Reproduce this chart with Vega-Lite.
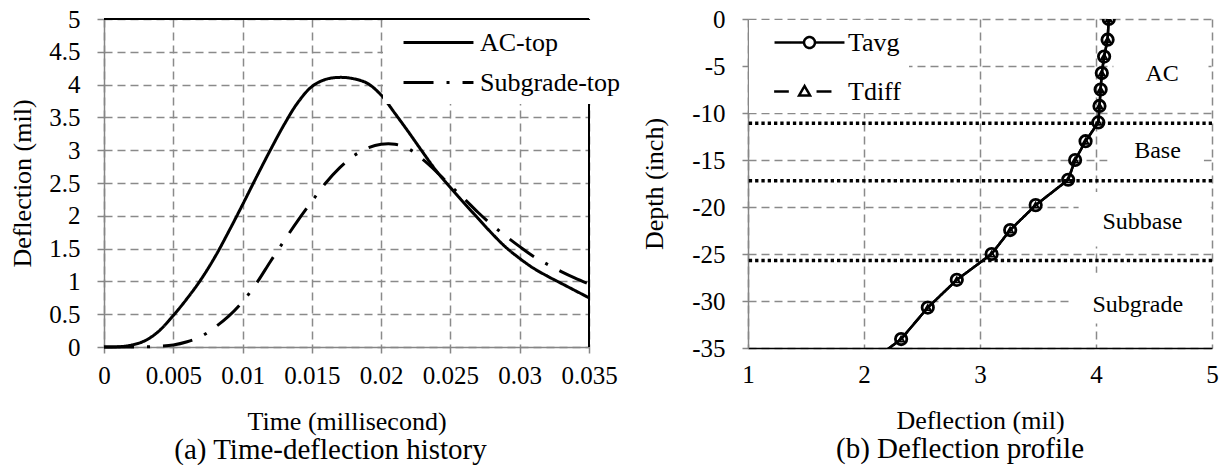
{
  "$schema": "https://vega.github.io/schema/vega-lite/v6.json",
  "background": "white",
  "padding": {"left": 9, "top": 7, "right": 0, "bottom": 0},
  "spacing": 159,
  "bounds": "flush",
  "resolve": {"scale": {"strokeDash": "independent"}, "legend": {"strokeDash": "independent"}},
  "config": {
    "font": "Liberation Serif",
    "view": {"stroke": null},
    "axis": {
      "labelFont": "Liberation Serif", "titleFont": "Liberation Serif",
      "labelFontSize": 25, "titleFontSize": 26, "labelColor": "black", "titleColor": "black",
      "titleFontWeight": "normal", "domainColor": "#868686", "domainWidth": 1.5,
      "tickColor": "#868686", "tickWidth": 1.5, "gridColor": "#8a8a8a", "gridDash": [8, 5],
      "gridWidth": 1.5, "gridOpacity": 1, "labelOverlap": false, "labelFlush": false
    },
    "title": {"font": "Liberation Serif", "fontSize": 29, "fontWeight": "normal", "color": "black"},
    "legend": {"labelFont": "Liberation Serif", "labelFontSize": 26, "labelColor": "black", "labelLimit": 0},
    "text": {"font": "Liberation Serif"}
  },
  "hconcat": [
    {
      "width": 485,
      "height": 328,
      "title": {"text": "(a) Time-deflection history", "orient": "bottom", "offset": 2, "dx": -16, "font": "Liberation Serif", "fontSize": 29, "fontWeight": "normal", "color": "black"},
      "data": {"values": [
        {"t": 0, "v": 0, "series": "AC-top"},
        {"t": 0.001, "v": 0.003, "series": "AC-top"},
        {"t": 0.002, "v": 0.03, "series": "AC-top"},
        {"t": 0.003, "v": 0.1, "series": "AC-top"},
        {"t": 0.004, "v": 0.25, "series": "AC-top"},
        {"t": 0.005, "v": 0.48, "series": "AC-top"},
        {"t": 0.006, "v": 0.74, "series": "AC-top"},
        {"t": 0.007, "v": 1.03, "series": "AC-top"},
        {"t": 0.008, "v": 1.37, "series": "AC-top"},
        {"t": 0.009, "v": 1.76, "series": "AC-top"},
        {"t": 0.01, "v": 2.17, "series": "AC-top"},
        {"t": 0.011, "v": 2.59, "series": "AC-top"},
        {"t": 0.012, "v": 3.0, "series": "AC-top"},
        {"t": 0.013, "v": 3.39, "series": "AC-top"},
        {"t": 0.014, "v": 3.73, "series": "AC-top"},
        {"t": 0.015, "v": 3.97, "series": "AC-top"},
        {"t": 0.016, "v": 4.08, "series": "AC-top"},
        {"t": 0.017, "v": 4.11, "series": "AC-top"},
        {"t": 0.018, "v": 4.09, "series": "AC-top"},
        {"t": 0.019, "v": 4.02, "series": "AC-top"},
        {"t": 0.02, "v": 3.84, "series": "AC-top"},
        {"t": 0.021, "v": 3.56, "series": "AC-top"},
        {"t": 0.022, "v": 3.27, "series": "AC-top"},
        {"t": 0.023, "v": 2.97, "series": "AC-top"},
        {"t": 0.024, "v": 2.68, "series": "AC-top"},
        {"t": 0.025, "v": 2.43, "series": "AC-top"},
        {"t": 0.026, "v": 2.19, "series": "AC-top"},
        {"t": 0.027, "v": 1.96, "series": "AC-top"},
        {"t": 0.028, "v": 1.73, "series": "AC-top"},
        {"t": 0.029, "v": 1.52, "series": "AC-top"},
        {"t": 0.03, "v": 1.35, "series": "AC-top"},
        {"t": 0.031, "v": 1.2, "series": "AC-top"},
        {"t": 0.032, "v": 1.08, "series": "AC-top"},
        {"t": 0.033, "v": 0.97, "series": "AC-top"},
        {"t": 0.034, "v": 0.86, "series": "AC-top"},
        {"t": 0.035, "v": 0.75, "series": "AC-top"},
        {"t": 0, "v": 0, "series": "Subgrade-top"},
        {"t": 0.001, "v": 0, "series": "Subgrade-top"},
        {"t": 0.002, "v": 0, "series": "Subgrade-top"},
        {"t": 0.003, "v": 0.002, "series": "Subgrade-top"},
        {"t": 0.004, "v": 0.01, "series": "Subgrade-top"},
        {"t": 0.005, "v": 0.03, "series": "Subgrade-top"},
        {"t": 0.006, "v": 0.08, "series": "Subgrade-top"},
        {"t": 0.007, "v": 0.16, "series": "Subgrade-top"},
        {"t": 0.008, "v": 0.3, "series": "Subgrade-top"},
        {"t": 0.009, "v": 0.47, "series": "Subgrade-top"},
        {"t": 0.01, "v": 0.69, "series": "Subgrade-top"},
        {"t": 0.011, "v": 0.97, "series": "Subgrade-top"},
        {"t": 0.012, "v": 1.3, "series": "Subgrade-top"},
        {"t": 0.013, "v": 1.62, "series": "Subgrade-top"},
        {"t": 0.014, "v": 1.93, "series": "Subgrade-top"},
        {"t": 0.015, "v": 2.22, "series": "Subgrade-top"},
        {"t": 0.016, "v": 2.5, "series": "Subgrade-top"},
        {"t": 0.017, "v": 2.73, "series": "Subgrade-top"},
        {"t": 0.018, "v": 2.91, "series": "Subgrade-top"},
        {"t": 0.019, "v": 3.03, "series": "Subgrade-top"},
        {"t": 0.02, "v": 3.09, "series": "Subgrade-top"},
        {"t": 0.021, "v": 3.09, "series": "Subgrade-top"},
        {"t": 0.022, "v": 3.02, "series": "Subgrade-top"},
        {"t": 0.023, "v": 2.86, "series": "Subgrade-top"},
        {"t": 0.024, "v": 2.67, "series": "Subgrade-top"},
        {"t": 0.025, "v": 2.46, "series": "Subgrade-top"},
        {"t": 0.026, "v": 2.26, "series": "Subgrade-top"},
        {"t": 0.027, "v": 2.05, "series": "Subgrade-top"},
        {"t": 0.028, "v": 1.86, "series": "Subgrade-top"},
        {"t": 0.029, "v": 1.69, "series": "Subgrade-top"},
        {"t": 0.03, "v": 1.53, "series": "Subgrade-top"},
        {"t": 0.031, "v": 1.38, "series": "Subgrade-top"},
        {"t": 0.032, "v": 1.26, "series": "Subgrade-top"},
        {"t": 0.033, "v": 1.15, "series": "Subgrade-top"},
        {"t": 0.034, "v": 1.05, "series": "Subgrade-top"},
        {"t": 0.035, "v": 0.96, "series": "Subgrade-top"}
      ]},
      "layer": [
        {
          "mark": {"type": "line", "interpolate": "catmull-rom", "strokeWidth": 3, "color": "black", "strokeCap": "butt"},
          "encoding": {
            "x": {"field": "t", "type": "quantitative",
              "scale": {"domain": [0, 0.035], "nice": false, "zero": false},
              "axis": {"title": "Time (millisecond)", "values": [0, 0.005, 0.01, 0.015, 0.02, 0.025, 0.03, 0.035], "format": "~g", "tickSize": 6, "labelPadding": 10, "titlePadding": 20,
                "labelFont": "Liberation Serif", "titleFont": "Liberation Serif"}},
            "y": {"field": "v", "type": "quantitative",
              "scale": {"domain": [0, 5], "nice": false},
              "axis": {"title": "Deflection (mil)", "values": [0, 0.5, 1, 1.5, 2, 2.5, 3, 3.5, 4, 4.5, 5], "format": "~g", "tickSize": 7, "labelPadding": 17, "titlePadding": 13,
                "labelFont": "Liberation Serif", "titleFont": "Liberation Serif"}},
            "strokeDash": {"field": "series", "type": "nominal",
              "scale": {"domain": ["AC-top", "Subgrade-top"], "range": [[1, 0], [30, 13, 3, 13]]},
              "legend": {"title": null, "orient": "none", "legendX": 279, "legendY": 1, "fillColor": "white", "padding": 8,
                "symbolType": "M-2.69,0L2.69,0", "symbolSize": 676, "symbolStrokeWidth": 3, "symbolStrokeColor": "black",
                "symbolFillColor": "transparent", "labelFont": "Liberation Serif", "labelFontSize": 26,
                "symbolOffset": 33, "labelOffset": 27, "rowPadding": 12}}
          }
        },
        {
          "mark": {"type": "rule", "color": "black", "strokeWidth": 1.5},
          "encoding": {"y": {"datum": 5, "type": "quantitative",
            "axis": {"title": "Deflection (mil)", "values": [0, 0.5, 1, 1.5, 2, 2.5, 3, 3.5, 4, 4.5, 5], "format": "~g", "tickSize": 7, "labelPadding": 17, "titlePadding": 13,
              "labelFont": "Liberation Serif", "titleFont": "Liberation Serif"}}}
        },
        {
          "mark": {"type": "rule", "color": "black", "strokeWidth": 1.5},
          "encoding": {"x": {"datum": 0.035, "type": "quantitative",
            "axis": {"title": "Time (millisecond)", "values": [0, 0.005, 0.01, 0.015, 0.02, 0.025, 0.03, 0.035], "format": "~g", "tickSize": 6, "labelPadding": 10, "titlePadding": 20,
              "labelFont": "Liberation Serif", "titleFont": "Liberation Serif"}}}
        }
      ]
    },
    {
      "width": 464,
      "height": 329,
      "title": {"text": "(b) Deflection profile", "orient": "bottom", "offset": 2, "dx": -20, "font": "Liberation Serif", "fontSize": 29, "fontWeight": "normal", "color": "black"},
      "layer": [
        {
          "data": {"values": [
            {"label": "AC", "x1": 4.15, "x2": 4.97, "y1": -3.2, "y2": -8.3},
            {"label": "Base", "x1": 4.1, "x2": 4.93, "y1": -12.4, "y2": -16.1},
            {"label": "Subbase", "x1": 3.85, "x2": 4.99, "y1": -18.4, "y2": -24.2},
            {"label": "Subgrade", "x1": 3.78, "x2": 4.99, "y1": -27.0, "y2": -32.4}
          ]},
          "mark": {"type": "rect", "color": "white"},
          "encoding": {
            "x": {"field": "x1", "type": "quantitative", "scale": {"domain": [1, 5], "nice": false, "zero": false},
              "axis": {"title": "Deflection (mil)", "values": [1, 2, 3, 4, 5], "format": "~g", "ticks": false, "labelPadding": 14, "titlePadding": 20, "domainColor": "black",
                "labelFont": "Liberation Serif", "titleFont": "Liberation Serif"}},
            "x2": {"field": "x2"},
            "y": {"field": "y1", "type": "quantitative", "scale": {"domain": [-35, 0], "nice": false, "zero": false},
              "axis": {"title": "Depth (inch)", "values": [0, -5, -10, -15, -20, -25, -30, -35], "labelExpr": "datum.value + ''", "tickSize": 6, "labelPadding": 17, "titlePadding": 24,
                "labelFont": "Liberation Serif", "titleFont": "Liberation Serif"}},
            "y2": {"field": "y2"}
          }
        },
        {
          "data": {"values": [{"boundary": -11.1}, {"boundary": -17.2}, {"boundary": -25.7}]},
          "mark": {"type": "rule", "color": "black", "strokeWidth": 3.5, "strokeDash": [3.3, 3], "strokeCap": "butt"},
          "encoding": {"y": {"field": "boundary", "type": "quantitative"}}
        },
        {
          "data": {"values": [
            {"depth": 0, "defl": 4.11, "series": "Tavg"},
            {"depth": -2.2, "defl": 4.1, "series": "Tavg"},
            {"depth": -4.0, "defl": 4.07, "series": "Tavg"},
            {"depth": -5.75, "defl": 4.05, "series": "Tavg"},
            {"depth": -7.5, "defl": 4.04, "series": "Tavg"},
            {"depth": -9.25, "defl": 4.03, "series": "Tavg"},
            {"depth": -11.0, "defl": 4.02, "series": "Tavg"},
            {"depth": -13.0, "defl": 3.91, "series": "Tavg"},
            {"depth": -15.0, "defl": 3.82, "series": "Tavg"},
            {"depth": -17.1, "defl": 3.76, "series": "Tavg"},
            {"depth": -19.8, "defl": 3.48, "series": "Tavg"},
            {"depth": -22.45, "defl": 3.26, "series": "Tavg"},
            {"depth": -25.0, "defl": 3.1, "series": "Tavg"},
            {"depth": -27.75, "defl": 2.8, "series": "Tavg"},
            {"depth": -30.7, "defl": 2.55, "series": "Tavg"},
            {"depth": -34.05, "defl": 2.32, "series": "Tavg"},
            {"depth": -37.5, "defl": 1.95, "series": "Tavg"},
            {"depth": 0, "defl": 4.11, "series": "Tdiff"},
            {"depth": -2.2, "defl": 4.1, "series": "Tdiff"},
            {"depth": -4.0, "defl": 4.07, "series": "Tdiff"},
            {"depth": -5.75, "defl": 4.05, "series": "Tdiff"},
            {"depth": -7.5, "defl": 4.04, "series": "Tdiff"},
            {"depth": -9.25, "defl": 4.03, "series": "Tdiff"},
            {"depth": -11.0, "defl": 4.02, "series": "Tdiff"},
            {"depth": -13.0, "defl": 3.91, "series": "Tdiff"},
            {"depth": -15.0, "defl": 3.82, "series": "Tdiff"},
            {"depth": -17.1, "defl": 3.76, "series": "Tdiff"},
            {"depth": -19.8, "defl": 3.48, "series": "Tdiff"},
            {"depth": -22.45, "defl": 3.26, "series": "Tdiff"},
            {"depth": -25.0, "defl": 3.1, "series": "Tdiff"},
            {"depth": -27.75, "defl": 2.8, "series": "Tdiff"},
            {"depth": -30.7, "defl": 2.55, "series": "Tdiff"},
            {"depth": -34.05, "defl": 2.32, "series": "Tdiff"},
            {"depth": -37.5, "defl": 1.95, "series": "Tdiff"}
          ]},
          "layer": [
            {
              "mark": {"type": "line", "strokeWidth": 2.5, "color": "black", "clip": true},
              "encoding": {
                "x": {"field": "defl", "type": "quantitative"},
                "y": {"field": "depth", "type": "quantitative"},
                "order": {"field": "depth", "sort": "descending"},
                "strokeDash": {"field": "series", "type": "nominal",
                  "scale": {"domain": ["Tavg", "Tdiff"], "range": [[1, 0], [1, 0]]},
                  "legend": {"title": null, "orient": "none", "legendX": 1, "legendY": 1, "fillColor": "white", "padding": 8,
                    "symbolType": "stroke", "symbolSize": 676, "symbolStrokeWidth": 2.5, "symbolStrokeColor": "black",
                    "labelFont": "Liberation Serif", "labelFontSize": 26,
                    "symbolOffset": 38, "labelOffset": 24, "rowPadding": 21,
                    "encode": {"symbols": {"update": {
                      "shape": {"signal": "datum.value === 'Tavg' ? 'M-2.69,0L-0.42,0M0.42,0L2.69,0M-0.42,0A0.42,0.42,0,1,1,0.42,0A0.42,0.42,0,1,1,-0.42,0Z' : 'M-2.72,0L-1.59,0M0.54,0L1.69,0M-0.8,0.3L-0.38,-0.42L0.04,0.3Z'"},
                      "fill": {"value": "white"},
                      "stroke": {"value": "black"},
                      "strokeWidth": {"value": 2.5}
                    }}}}}
              }
            },
            {
              "transform": [{"filter": "datum.series === 'Tavg'"}],
              "mark": {"type": "point", "shape": "circle", "size": 130, "filled": false, "strokeWidth": 2.8, "color": "black", "opacity": 1, "clip": true},
              "encoding": {
                "x": {"field": "defl", "type": "quantitative"},
                "y": {"field": "depth", "type": "quantitative"}
              }
            },
            {
              "transform": [{"filter": "datum.series === 'Tdiff'"}],
              "mark": {"type": "point", "shape": "triangle-up", "size": 35, "filled": false, "strokeWidth": 1.8, "color": "black", "opacity": 1, "clip": true},
              "encoding": {
                "x": {"field": "defl", "type": "quantitative"},
                "y": {"field": "depth", "type": "quantitative"}
              }
            }
          ]
        },
        {
          "data": {"values": [
            {"label": "AC", "x": 4.57, "y": -5.9},
            {"label": "Base", "x": 4.53, "y": -14.0},
            {"label": "Subbase", "x": 4.4, "y": -21.6},
            {"label": "Subgrade", "x": 4.36, "y": -30.4}
          ]},
          "mark": {"type": "text", "font": "Liberation Serif", "fontSize": 24, "color": "black", "align": "center", "baseline": "middle"},
          "encoding": {
            "x": {"field": "x", "type": "quantitative"},
            "y": {"field": "y", "type": "quantitative"},
            "text": {"field": "label"}
          }
        },
        {
          "mark": {"type": "rule", "color": "#868686", "strokeWidth": 1.5},
          "encoding": {"y": {"datum": 0, "type": "quantitative"}}
        },
        {
          "mark": {"type": "rule", "color": "black", "strokeWidth": 1.5},
          "encoding": {"y": {"datum": -35, "type": "quantitative"}}
        },
        {
          "mark": {"type": "rule", "color": "black", "strokeWidth": 1.5},
          "encoding": {"x": {"datum": 5, "type": "quantitative"}}
        }
      ]
    }
  ]
}
